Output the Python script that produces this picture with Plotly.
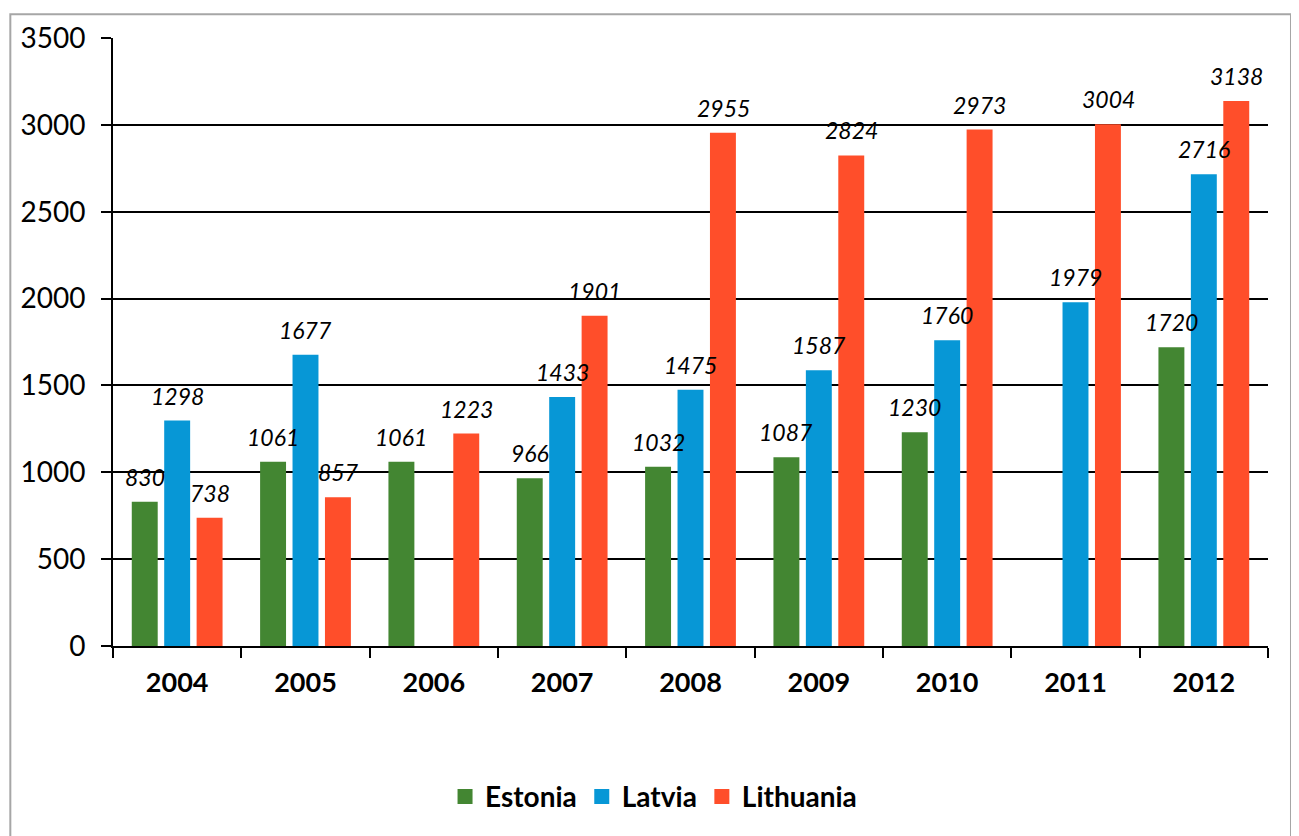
import plotly.graph_objects as go

years = ["2004", "2005", "2006", "2007", "2008", "2009", "2010", "2011", "2012"]
estonia = [830, 1061, 1061, 966, 1032, 1087, 1230, None, 1720]
latvia = [1298, 1677, None, 1433, 1475, 1587, 1760, 1979, 2716]
lithuania = [738, 857, 1223, 1901, 2955, 2824, 2973, 3004, 3138]

series = [("Estonia", estonia, "#438632"), ("Latvia", latvia, "#0797D6"), ("Lithuania", lithuania, "#FF4E2A")]

FONT = "Lato, 'Open Sans', sans-serif"

fig = go.Figure()
annotations = []
offsets = [-32.5, 0, 32.5]
for (name, vals, col), off in zip(series, offsets):
    fig.add_trace(go.Bar(name=name, x=years, y=vals, marker=dict(color=col, line=dict(width=0)),
                         showlegend=False, legendgroup=name))
    # legend entry with a larger square swatch
    fig.add_trace(go.Scatter(name=name, x=[None], y=[None], mode="markers", legendgroup=name,
                             marker=dict(symbol="square", size=15, color=col), showlegend=True))
    for i, v in enumerate(vals):
        if v is None:
            continue
        # x is the category index on the category axis
        annotations.append(dict(x=i, y=v, xref="x", yref="y", text=f"<i>{v}</i>", showarrow=False,
                                xshift=off, yshift=25, font=dict(family=FONT, size=23, color="black")))

fig.update_layout(
    width=1299, height=836,
    margin=dict(l=102, r=39, t=24, b=198),
    paper_bgcolor="white", plot_bgcolor="white",
    barmode="group", bargap=0.242, bargroupgap=0.2,
    font=dict(family=FONT, color="black"),
    annotations=annotations,
    legend=dict(orientation="h", x=0.468, xanchor="center", y=-0.248, yanchor="middle",
                font=dict(family=FONT, size=28, color="black", weight="bold"),
                itemsizing="trace", traceorder="normal", itemwidth=30),
    showlegend=True,
    shapes=[dict(type="rect", xref="paper", yref="paper", x0=-0.0889, x1=1.0199, y0=-0.34, y1=1.0392,
                 line=dict(color="#A6A6A6", width=2), fillcolor="rgba(0,0,0,0)", layer="below")],
)
fig.update_xaxes(type="category", range=[-0.5, len(years) - 0.5], showline=True, linecolor="black", linewidth=2,
                 ticks="outside", ticklen=10, tickwidth=2, tickcolor="black", tickson="boundaries", showgrid=False,
                 tickfont=dict(family=FONT, size=27, color="black", weight="bold"), ticklabelstandoff=12)
fig.update_yaxes(range=[0, 3500], dtick=500, showline=True, linecolor="black", linewidth=2, ticks="outside",
                 ticklen=10, tickwidth=2, tickcolor="black", showgrid=True, gridcolor="black", gridwidth=1.5,
                 tickfont=dict(family=FONT, size=28, color="black"), ticklabelstandoff=10, zeroline=False)

fig.write_html("out.html")
